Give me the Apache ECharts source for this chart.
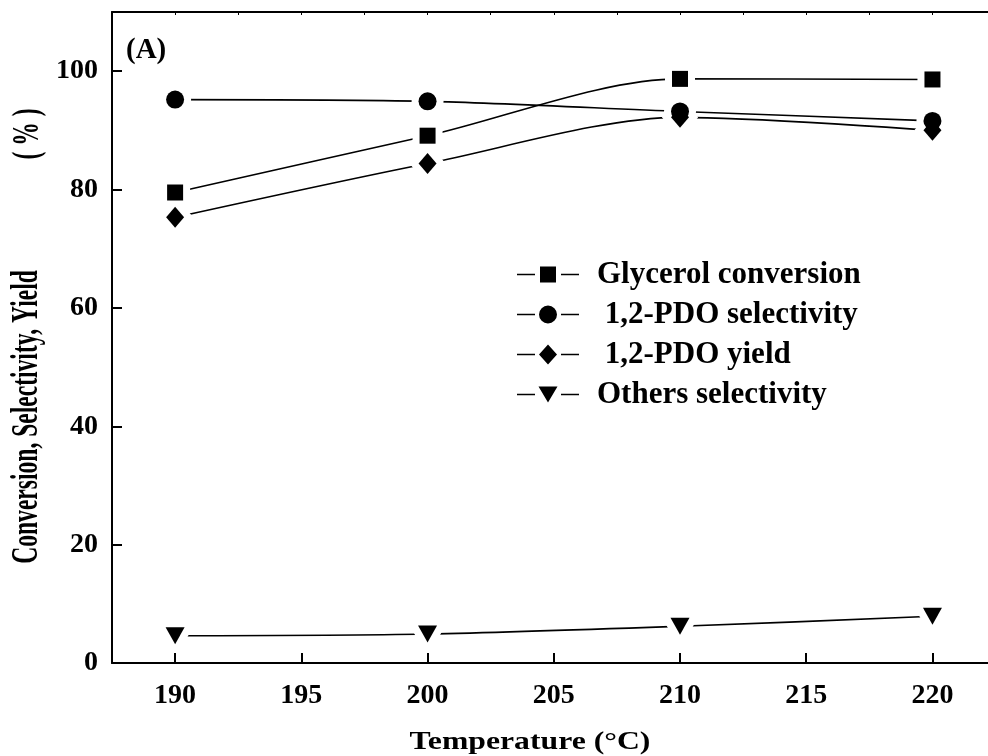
<!DOCTYPE html>
<html>
<head>
<meta charset="utf-8">
<script src="https://cdn.jsdelivr.net/npm/echarts@6/dist/echarts.min.js"></script>
<style>
html,body{margin:0;padding:0;background:#fff;}
#chart{width:988px;height:756px;}
</style>
</head>
<body>
<div id="chart"></div>
<script>
// ---- data ----
var temperatures = [190, 200, 210, 220];
var glycerolConversion = [79.5, 89.1, 98.7, 98.6];
var pdoSelectivity = [95.2, 94.9, 93.2, 91.6];
var pdoYield = [75.3, 84.4, 92.2, 90.0];
var othersSelectivity = [4.6, 4.9, 6.2, 7.9];
var seriesNames = ['Glycerol conversion', ' 1,2-PDO selectivity', ' 1,2-PDO yield', 'Others selectivity'];
var xAxisTitle = 'Temperature (\u00B0C)';
var yAxisTitle = 'Conversion, Selectivity, Yield';
var yAxisUnit = '( % )';
var panelLabel = '(A)';

var FONT = '"Liberation Serif", "Times New Roman", serif';

function pairs(vals) {
  return temperatures.map(function (t, i) { return [t, vals[i]]; });
}
var allValues = [glycerolConversion, pdoSelectivity, pdoYield, othersSelectivity];
var symbols = ['rect', 'circle', 'diamond', 'triangle'];
var sizes = [16, 18, [18, 21], [19, 17]];
var rotates = [0, 0, 0, 180];

var lineL = 'M0,9.2 H18 V10.8 H0 Z ';
var lineR = ' M44,9.2 H62 V10.8 H44 Z';
var icons = [
  'path://' + lineL + 'M23,2 H39 V18 H23 Z' + lineR,
  'path://' + lineL + 'M22,10 A9,9 0 1,0 40,10 A9,9 0 1,0 22,10 Z' + lineR,
  'path://' + lineL + 'M31,0 L40,10 L31,20 L22,10 Z' + lineR,
  'path://' + lineL + 'M21.5,2 H40.5 L31,18 Z' + lineR
];

var series = [];
allValues.forEach(function (vals, i) {
  series.push({
    type: 'line', name: 'line' + i, data: pairs(vals), smooth: 0.3,
    showSymbol: false, symbol: 'none', z: 2, silent: true,
    lineStyle: { color: '#000', width: 1.6, opacity: 1 }
  });
});
allValues.forEach(function (vals, i) {
  series.push({
    type: 'scatter', name: 'gap' + i, data: pairs(vals), symbol: symbols[i],
    symbolSize: sizes[i], symbolRotate: rotates[i], z: 3, silent: true,
    itemStyle: { color: '#fff', borderColor: '#fff', borderWidth: 14, opacity: 1 }
  });
});
allValues.forEach(function (vals, i) {
  series.push({
    type: 'scatter', name: seriesNames[i], data: pairs(vals), symbol: symbols[i],
    symbolSize: sizes[i], symbolRotate: rotates[i], z: 4,
    itemStyle: { color: '#000', opacity: 1 }
  });
});

var chart = echarts.init(document.getElementById('chart'), null, { renderer: 'canvas' });
chart.setOption({
  animation: false,
  backgroundColor: '#fff',
  grid: { left: 112, right: 0, top: 12, bottom: 93, containLabel: false, outerBoundsMode: 'none' },
  legend: {
    orient: 'vertical', left: 517, top: 259, itemGap: 9, padding: 0,
    itemWidth: 62, itemHeight: 20, symbolKeepAspect: true,
    data: seriesNames.map(function (n, i) { return { name: n, icon: icons[i] }; }),
    textStyle: { fontFamily: FONT, fontWeight: 'bold', fontSize: 31, color: '#000', padding: [0, 0, 0, 13] }
  },
  xAxis: [{
    type: 'value', min: 187.5, max: 222.2, splitNumber: 7, position: 'bottom', z: 3.5,
    axisLine: { show: true, onZero: false, lineStyle: { color: '#000', width: 2 } },
    axisTick: { show: true, inside: true, length: 10, lineStyle: { color: '#000', width: 2 } },
    splitLine: { show: false },
    axisLabel: {
      margin: 19, fontFamily: FONT, fontWeight: 'bold', fontSize: 28, color: '#000',
      showMinLabel: false, showMaxLabel: false,
      formatter: function (v) { return (v % 5 === 0) ? String(v) : ''; }
    }
  }, {
    type: 'value', min: 187.5, max: 222.2, interval: 2.5, position: 'top',
    axisLine: { show: true, onZero: false, lineStyle: { color: '#000', width: 2 } },
    axisTick: { show: true, inside: true, length: 3, lineStyle: { color: '#000', width: 1 } },
    axisLabel: { show: false }, splitLine: { show: false }
  }],
  yAxis: [{
    type: 'value', min: 0, max: 110, interval: 20,
    axisLine: { show: true, onZero: false, lineStyle: { color: '#000', width: 2 } },
    axisTick: { show: true, inside: true, length: 10, lineStyle: { color: '#000', width: 2 } },
    splitLine: { show: false },
    axisLabel: {
      margin: 14, fontFamily: FONT, fontWeight: 'bold', fontSize: 28, color: '#000',
      formatter: function (v) { return v > 100 ? '' : String(v); }
    }
  }],
  graphic: [
    {
      type: 'text', x: 27, y: 417, rotation: Math.PI / 2, scaleX: 0.62, scaleY: 1,
      style: { text: yAxisTitle, fontFamily: FONT, fontWeight: 'bold', fontSize: 38, fill: '#000', align: 'center', verticalAlign: 'middle' }
    },
    {
      type: 'text', x: 28, y: 134, rotation: Math.PI / 2, scaleX: 0.62, scaleY: 1,
      style: { text: yAxisUnit, fontFamily: FONT, fontWeight: 'bold', fontSize: 38, fill: '#000', align: 'center', verticalAlign: 'middle' }
    },
    {
      type: 'text', x: 530, y: 742, scaleX: 1.22, scaleY: 1,
      style: { text: xAxisTitle, fontFamily: FONT, fontWeight: 'bold', fontSize: 26, fill: '#000', align: 'center', verticalAlign: 'middle' }
    },
    {
      type: 'text', left: 126, top: 36,
      style: { text: panelLabel, fontFamily: FONT, fontWeight: 'bold', fontSize: 29, fill: '#000' }
    }
  ],
  series: series
});
</script>
</body>
</html>
